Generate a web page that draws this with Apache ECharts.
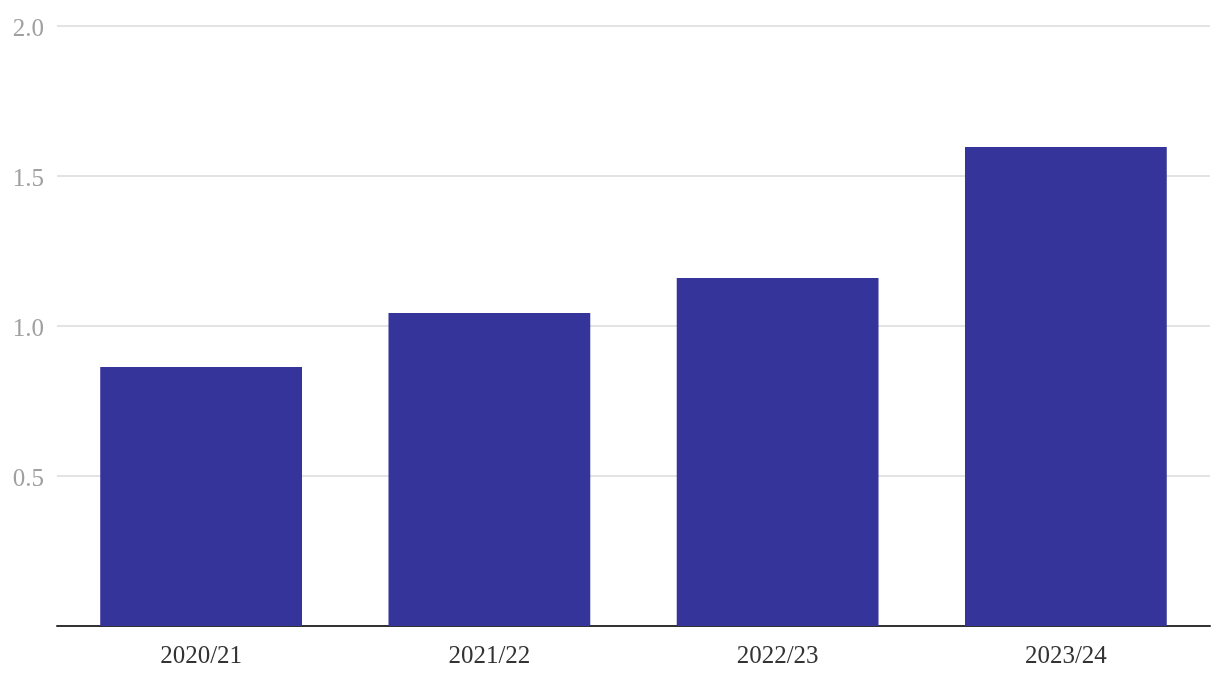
<!DOCTYPE html>
<html><head><meta charset="utf-8">
<script src="https://cdn.jsdelivr.net/npm/echarts@6/dist/echarts.min.js"></script>
<style>html,body{margin:0;padding:0;background:#fff}#c{width:1220px;height:684px}</style>
</head><body><div id="c"></div>
<script>
const categories = ['2020/21', '2021/22', '2022/23', '2023/24'];
const values = [0.863, 1.043, 1.16, 1.597];
const yTicks = [0.5, 1.0, 1.5, 2.0];

const chart = echarts.init(document.getElementById('c'), null, {renderer: 'canvas'});
chart.setOption({
  animation: false,
  grid: {left: 57, right: 10, top: 26, bottom: 58, containLabel: false},
  xAxis: {
    type: 'category', data: categories,
    axisLine: {lineStyle: {color: '#333', width: 2}},
    axisTick: {show: false},
    axisLabel: {color: '#333', fontFamily: 'Liberation Serif', fontSize: 25, margin: 18}
  },
  yAxis: {
    type: 'value', min: 0, max: 2, interval: 0.5,
    axisLine: {show: false}, axisTick: {show: false},
    splitLine: {lineStyle: {color: '#e3e3e3', width: 2}},
    axisLabel: {color: '#a0a0a0', fontFamily: 'Liberation Serif', fontSize: 25, margin: 13,
      formatter: v => (yTicks.includes(v) ? '{a|' + v.toFixed(1) + '}' : ''),
      rich: {a: {color: '#a0a0a0', fontFamily: 'Liberation Serif', fontSize: 25, padding: [7, 0, 0, 0]}}}
  },
  series: [{type: 'bar', data: values, barWidth: '70%', itemStyle: {color: '#35349a'}}]
});
</script></body></html>
